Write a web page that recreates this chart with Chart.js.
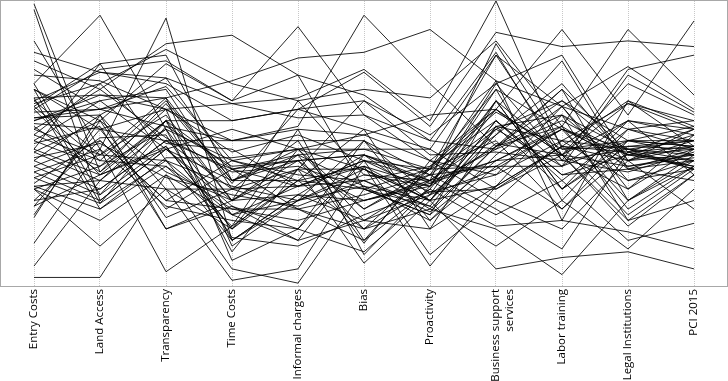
<!DOCTYPE html>
<html>
<head>
<meta charset="utf-8">
<script src="https://cdn.jsdelivr.net/npm/chart.js@4"></script>
<style>
html,body{margin:0;padding:0;background:#fff;}
#wrap{width:728px;height:381px;}
</style>
</head>
<body>
<div id="wrap"><canvas id="c" width="728" height="381"></canvas></div>
<script>
const categories = ["Entry Costs","Land Access","Transparency","Time Costs","Informal charges","Bias","Proactivity",["Business support","services"],"Labor training","Legal Institutions","PCI 2015"];

// normalized scores (0-100) for each province across the 11 axes
const p01 = [99, 40, 58, 41, 35, 44, 37, 55, 65, 46, 53];
const p02 = [97, 30, 48, 30, 44, 46, 30, 58, 37, 55, 48];
const p03 = [86, 48, 94, 16, 30, 39, 35, 49, 56, 42, 46];
const p04 = [79, 69, 85, 88, 74, 34, 41, 69, 55, 48, 51];
const p05 = [76, 62, 66, 72, 80, 82, 90, 72, 63, 55, 58];
const p06 = [71, 95, 55, 44, 37, 42, 30, 55, 42, 51, 49];
const p07 = [69, 58, 78, 65, 91, 60, 44, 62, 46, 58, 55];
const p08 = [69, 55, 51, 51, 56, 95, 71, 49, 60, 41, 44];
const p09 = [66, 67, 62, 64, 66, 76, 58, 100, 48, 51, 56];
const p10 = [65, 75, 71, 58, 62, 75, 56, 89, 84, 86, 84];
const p11 = [64, 71, 83, 71, 65, 69, 66, 86, 56, 90, 67];
const p12 = [63, 78, 81, 37, 48, 53, 60, 62, 90, 60, 93];
const p13 = [62, 76, 79, 65, 74, 67, 51, 82, 44, 76, 81];
const p14 = [59, 60, 73, 41, 46, 48, 48, 81, 63, 77, 62];
const p15 = [58, 65, 69, 34, 41, 65, 53, 71, 81, 44, 55];
const p16 = [55, 46, 66, 14, 30, 35, 30, 53, 79, 41, 48];
const p17 = [53, 44, 65, 37, 44, 27, 41, 81, 46, 64, 58];
const p18 = [51, 42, 62, 9, 20, 51, 23, 46, 63, 37, 44];
const p19 = [48, 39, 58, 30, 41, 30, 35, 69, 30, 55, 51];
const p20 = [47, 37, 55, 25, 35, 44, 11, 30, 51, 48, 41];
const p21 = [44, 34, 51, 41, 27, 20, 34, 62, 42, 58, 53];
const p22 = [42, 32, 49, 20, 48, 41, 27, 49, 69, 30, 46];
const p23 = [40, 30, 48, 28, 16, 46, 39, 72, 23, 65, 56];
const p24 = [38, 29, 44, 16, 32, 23, 32, 41, 55, 46, 42];
const p25 = [35, 27, 42, 21, 37, 55, 20, 56, 60, 23, 39];
const p26 = [34, 23, 39, 6, 1, 34, 25, 65, 34, 51, 49];
const p27 = [34, 14, 34, 2, 6, 42, 7, 35, 49, 44, 46];
const p28 = [30, 51, 30, 44, 48, 23, 37, 44, 56, 27, 42];
const p29 = [28, 55, 27, 41, 44, 20, 41, 42, 27, 51, 46];
const p30 = [25, 58, 24, 34, 51, 16, 42, 58, 39, 41, 37];
const p31 = [24, 60, 20, 30, 46, 15, 44, 39, 63, 34, 48];
const p32 = [15, 48, 5, 21, 55, 11, 35, 65, 34, 58, 39];
const p33 = [7, 37, 34, 20, 41, 8, 30, 35, 49, 25, 41];
const p34 = [3, 3, 39, 25, 30, 41, 30, 6, 10, 12, 6];
const p35 = [71, 32, 58, 58, 62, 55, 48, 34, 46, 23, 30];
const p36 = [69, 29, 56, 51, 55, 53, 44, 30, 20, 44, 27];
const p37 = [66, 27, 45, 45, 48, 27, 39, 27, 13, 47, 41];
const p38 = [65, 46, 60, 30, 32, 30, 37, 25, 37, 16, 22];
const p39 = [63, 44, 42, 27, 27, 16, 34, 21, 23, 19, 13];
const p40 = [62, 39, 49, 20, 37, 20, 27, 20, 4, 30, 44];
const p41 = [59, 62, 70, 44, 39, 37, 28, 14, 30, 13, 34];
const p42 = [58, 67, 66, 37, 46, 35, 23, 42, 55, 30, 42];
const p43 = [55, 69, 52, 40, 42, 34, 25, 44, 46, 21, 39];
const p44 = [53, 71, 50, 48, 35, 42, 35, 71, 44, 48, 46];
const p45 = [51, 65, 48, 55, 48, 48, 41, 51, 27, 47, 49];
const p46 = [48, 78, 44, 35, 30, 51, 32, 65, 46, 34, 53];
const p47 = [47, 58, 40, 30, 65, 39, 37, 53, 71, 44, 51];
const p48 = [44, 60, 34, 34, 27, 32, 39, 56, 34, 49, 48];
const p49 = [42, 51, 30, 27, 23, 30, 36, 48, 58, 46, 44];
const p50 = [40, 48, 28, 23, 20, 44, 33, 39, 51, 37, 41];
const p51 = [38, 46, 44, 25, 16, 23, 20, 35, 60, 48, 44];
const p52 = [35, 37, 58, 16, 32, 46, 37, 85, 49, 65, 49];
const p53 = [34, 42, 55, 12, 41, 41, 30, 58, 39, 46, 48];
const p54 = [30, 34, 51, 34, 35, 37, 42, 62, 46, 71, 60];
const p55 = [28, 39, 48, 37, 37, 34, 28, 56, 51, 64, 55];
const p56 = [82, 75, 73, 64, 59, 60, 51, 48, 69, 47, 55];
const p57 = [74, 72, 62, 51, 51, 51, 39, 42, 42, 74, 61];
const p58 = [61, 62, 56, 42, 44, 46, 36, 44, 55, 44, 49];
const p59 = [57, 55, 62, 47, 53, 44, 41, 61, 48, 49, 51];
const p60 = [45, 50, 38, 32, 28, 37, 26, 49, 65, 51, 51];
const p61 = [50, 56, 20, 28, 20, 12, 32, 50, 46, 42, 45];
const p62 = [36, 52, 53, 17, 14, 25, 33, 34, 49, 47, 42];
const p63 = [56, 40, 64, 36, 62, 65, 46, 47, 44, 40, 47];

const provinces = [p01,p02,p03,p04,p05,p06,p07,p08,p09,p10,p11,p12,p13,p14,p15,p16,p17,p18,p19,p20,p21,p22,p23,p24,p25,p26,p27,p28,p29,p30,p31,p32,p33,p34,p35,p36,p37,p38,p39,p40,p41,p42,p43,p44,p45,p46,p47,p48,p49,p50,p51,p52,p53,p54,p55,p56,p57,p58,p59,p60,p61,p62,p63];

const boxPlugin = {
  id: 'box',
  afterDraw(chart) {
    const a = chart.chartArea, ctx = chart.ctx;
    ctx.save();
    ctx.strokeStyle = '#a8a8a8';
    ctx.lineWidth = 1;
    ctx.strokeRect(a.left - 0.5, a.top - 0.5, a.right - a.left + 1, a.bottom - a.top + 1);
    ctx.restore();
  }
};

new Chart(document.getElementById('c'), {
  type: 'line',
  data: {
    labels: categories,
    datasets: provinces.map((d, i) => ({
      label: 'P' + (i + 1),
      data: d,
      borderColor: 'rgba(0,0,0,0.85)',
      borderWidth: 1,
      pointRadius: 0,
      tension: 0,
      fill: false
    }))
  },
  options: {
    responsive: false,
    animation: false,
    layout: { padding: { left: 1, right: 1, top: 1, bottom: 0 } },
    plugins: { legend: { display: false }, tooltip: { enabled: false } },
    scales: {
      x: {
        offset: true,
        grid: { offset: false, color: '#c8c8c8', drawTicks: false },
        border: { display: false, dash: [1, 1] },
        ticks: {
          minRotation: 90, maxRotation: 90, padding: 3,
          color: '#000',
          font: { family: 'Open Sans', size: 11.5 }
        },
        afterFit(scale) { scale.height = 95; }
      },
      y: {
        display: false,
        min: 0, max: 100
      }
    }
  },
  plugins: [boxPlugin]
});
</script>
</body>
</html>
